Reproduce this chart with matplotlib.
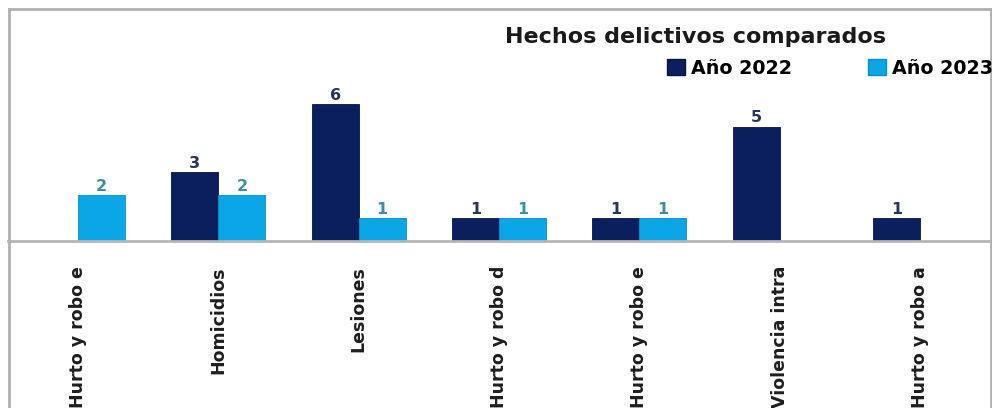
import matplotlib
matplotlib.use("Agg")
import matplotlib.pyplot as plt
import numpy as np
from matplotlib.lines import Line2D
from matplotlib.patches import Patch

categories = [
    "Hurto y robo e",
    "Homicidios",
    "Lesiones",
    "Hurto y robo d",
    "Hurto y robo e",
    "Violencia intra",
    "Hurto y robo a",
]
values_2022 = [0, 3, 6, 1, 1, 5, 1]
values_2023 = [2, 2, 1, 1, 1, 0, 0]
series_names = ["Año 2022", "Año 2023"]

COLOR_2022 = "#0b1f5e"
COLOR_2023 = "#0ba6e6"
LABEL_2022 = "#27365a"
LABEL_2023 = "#3a90a8"

W, H = 992, 408
fig = plt.figure(figsize=(W / 100, H / 100), dpi=100)
fig.patch.set_facecolor("white")

# plot area: x from 8 to 990 px, baseline at y=241 px
ax = fig.add_axes([8 / W, (H - 241) / H, 982 / W, 233 / H])
ax.set_facecolor("none")

x = np.arange(len(categories))
width = 0.335
bars_a = ax.bar(x - width / 2, values_2022, width, color=COLOR_2022,
                edgecolor="#07163f", linewidth=0.6, zorder=2)
bars_b = ax.bar(x + width / 2, values_2023, width, color=COLOR_2023,
                edgecolor="#0a8fc6", linewidth=0.6, zorder=2)

for bars, vals, col in [(bars_a, values_2022, LABEL_2022), (bars_b, values_2023, LABEL_2023)]:
    for b, v in zip(bars, vals):
        if v == 0:
            continue
        ax.annotate(str(v), (b.get_x() + b.get_width() / 2, v),
                    xytext=(0, 1), textcoords="offset points",
                    ha="center", va="bottom", fontsize=11.5,
                    fontweight="bold", color=col)

ax.set_xlim(-0.5, len(categories) - 0.5)
ax.set_ylim(0, 10.2)
for s in ["top", "right", "left"]:
    ax.spines[s].set_visible(False)
ax.spines["bottom"].set_color("#b5b5b5")
ax.spines["bottom"].set_linewidth(2)
ax.set_yticks([])
ax.set_xticks(x)
ax.set_xticklabels(categories, rotation=90, fontsize=12.5, fontweight="bold",
                   color="#1e1e1e")
ax.tick_params(axis="x", length=0, pad=18)

# title and legend
fig.text(505 / W, 1 - 37 / H, "Hechos delictivos comparados", fontsize=16,
         fontweight="bold", color="#1a1a1a", va="center", ha="left")

handles = [Patch(facecolor=COLOR_2022, edgecolor="#07163f"),
           Patch(facecolor=COLOR_2023, edgecolor="#0a8fc6")]
fig.legend(handles, series_names, loc="center left",
           bbox_to_anchor=(667 / W, 1 - 68 / H), ncol=2, frameon=False,
           prop={"weight": "bold", "size": 13.7}, handlelength=0.95,
           handleheight=0.95, handletextpad=0.3, columnspacing=4.0,
           borderaxespad=0, borderpad=0)

# outer border
border = dict(color="#b0b0b0", linewidth=2, transform=fig.transFigure)
fig.add_artist(Line2D([8.5 / W, 8.5 / W], [0, 1 - 8.5 / H], **border))
fig.add_artist(Line2D([8.5 / W, 990.5 / W], [1 - 8.5 / H, 1 - 8.5 / H], **border))
fig.add_artist(Line2D([990.5 / W, 990.5 / W], [0, 1 - 8.5 / H], **border))

fig.savefig("out.png", dpi=100)
